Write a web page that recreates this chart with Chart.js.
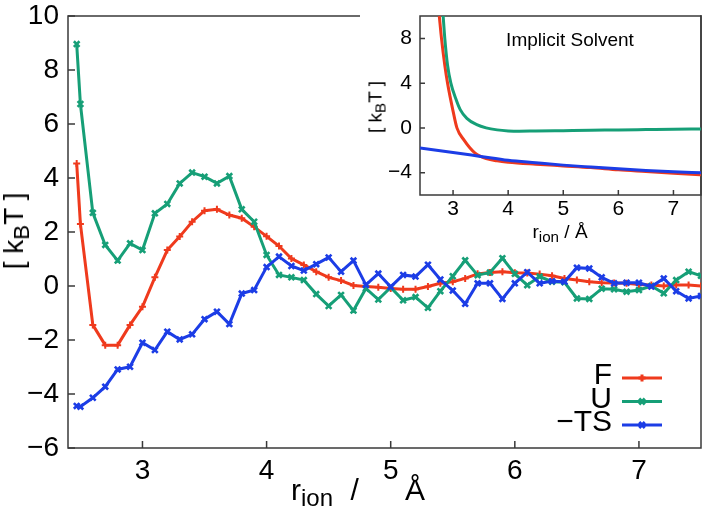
<!DOCTYPE html>
<html>
<head>
<meta charset="utf-8">
<script src="https://cdn.jsdelivr.net/npm/chart.js@4"></script>
<style>
  body { margin: 0; background: #fff; }
  #wrap { position: relative; width: 702px; height: 512px; font-family: "Liberation Sans", Arial, sans-serif; }
  #main { position: absolute; left: 0; top: 0; }
  #inset { position: absolute; left: 360px; top: 0; }
  .lbl { position: absolute; white-space: nowrap; color: #000; line-height: 1; transform-origin: center center; }
  .lbl sub { font-size: 0.8em; position: relative; top: 0.25em; vertical-align: baseline; }
</style>
</head>
<body>
<div id="wrap">
  <canvas id="main" width="702" height="512"></canvas>
  <canvas id="inset" width="342" height="244"></canvas>
  <div class="lbl" style="left:14px; top:231px; font-size:28px; transform:translate(-50%,-50%) rotate(-90deg);">[ k<sub>B</sub>T ]</div>
  <div class="lbl" style="left:291px; top:475px; font-size:30px;">r<sub>ion</sub> <span style="margin-left:9px">/</span> <span style="margin-left:38px">Å</span></div>
  <div class="lbl" style="left:375px; top:107px; font-size:19px; transform:translate(-50%,-50%) rotate(-90deg);">[ k<sub>B</sub>T ]</div>
  <div class="lbl" style="left:560px; top:231px; font-size:19px; transform:translate(-50%,-50%);">r<sub>ion</sub> / Å</div>
</div>
<script>
// main panel: r in Angstrom, energies in kBT
const xVals = [2.47, 2.5, 2.6, 2.7, 2.8, 2.9, 3.0, 3.1, 3.2, 3.3,
  3.4, 3.5, 3.6, 3.7, 3.8, 3.9, 4.0, 4.1, 4.2, 4.3,
  4.4, 4.5, 4.6, 4.7, 4.8, 4.9, 5.0, 5.1, 5.2, 5.3,
  5.4, 5.5, 5.6, 5.7, 5.8, 5.9, 6.0, 6.1, 6.2, 6.3,
  6.4, 6.5, 6.6, 6.7, 6.8, 6.9, 7.0, 7.1, 7.2, 7.3,
  7.4, 7.5];
const valsF = [4.54, 2.30, -1.44, -2.19, -2.19, -1.44, -0.77, 0.32, 1.33, 1.83,
  2.38, 2.79, 2.84, 2.63, 2.51, 2.19, 1.84, 1.48, 1.02, 0.78,
  0.53, 0.32, 0.20, 0.02, -0.02, -0.05, -0.09, -0.12, -0.12, -0.02,
  0.10, 0.16, 0.28, 0.45, 0.50, 0.53, 0.49, 0.48, 0.44, 0.38,
  0.28, 0.22, 0.16, 0.12, 0.11, 0.10, 0.06, 0.04, 0.00, 0.04,
  0.04, 0.00];
const valsU = [8.96, 6.74, 2.71, 1.52, 0.94, 1.58, 1.33, 2.69, 3.04, 3.80,
  4.20, 4.05, 3.80, 4.07, 2.84, 2.38, 1.15, 0.41, 0.32, 0.22,
  -0.30, -0.74, -0.33, -0.91, -0.09, -0.50, -0.05, -0.53, -0.41, -0.81,
  -0.19, 0.36, 0.95, 0.40, 0.50, 1.03, 0.45, 0.03, 0.35, 0.16,
  0.14, -0.46, -0.48, -0.10, -0.12, -0.21, -0.15, 0.00, -0.27, 0.22,
  0.53, 0.38];
const valsTS = [-4.44, -4.47, -4.14, -3.73, -3.09, -2.99, -2.10, -2.37, -1.69, -1.98,
  -1.79, -1.23, -0.95, -1.41, -0.28, -0.15, 0.70, 1.09, 0.74, 0.57,
  0.81, 1.06, 0.53, 0.94, 0.04, 0.46, -0.03, 0.41, 0.35, 0.79,
  0.24, -0.17, -0.66, 0.10, 0.10, -0.48, 0.10, 0.51, 0.10, 0.18,
  0.16, 0.68, 0.65, 0.32, 0.10, 0.12, 0.12, -0.02, 0.28, -0.19,
  -0.46, -0.37];
const seriesNames = ['F', 'U', '\u2212TS'];
const xTicks = [3, 4, 5, 6, 7];
const yTicks = [-6, -4, -2, 0, 2, 4, 6, 8, 10];

// inset: implicit solvent curves
const insetFx = [2.75, 2.79, 2.85, 2.9, 3.0, 3.07, 3.2, 3.3, 3.4, 3.5, 3.6, 3.8, 4.0, 4.5, 5.0, 5.5, 6.0, 6.5, 7.0, 7.5];
const insetF = [10, 8, 5.6, 4.0, 1.5, 0, -1.1, -1.75, -2.25, -2.55, -2.75, -2.95, -3.07, -3.25, -3.4, -3.55, -3.75, -3.9, -4.05, -4.2];
const insetUx = [2.82, 2.85, 2.9, 2.96, 3.05, 3.13, 3.25, 3.43, 3.6, 3.8, 4.0, 4.2, 4.5, 5.0, 5.5, 6.0, 6.5, 7.0, 7.5];
const insetU = [10, 8, 5.6, 4.0, 2.6, 1.63, 0.85, 0.29, 0.0, -0.18, -0.27, -0.3, -0.28, -0.25, -0.22, -0.18, -0.15, -0.12, -0.1];
const insetTSx = [2.4, 3.0, 3.5, 4.0, 4.5, 5.0, 5.5, 6.0, 6.5, 7.0, 7.5];
const insetTS = [-1.8, -2.2, -2.55, -2.9, -3.12, -3.33, -3.5, -3.66, -3.8, -3.92, -4.02];
const insetXTicks = [3, 4, 5, 6, 7];
const insetYTicks = [-4, 0, 4, 8];
const insetTitle = 'Implicit Solvent';

const RED = '#ef3a1d', GREEN = '#169f77', BLUE = '#1c3de6';
const FONT = '"Liberation Sans", Arial, sans-serif';

function pts(xs, ys) {
  return xs.map((x, i) => ({ x: x, y: ys[i] }));
}
function minus(v) {
  return String(v).replace('-', '\u2212');
}
// keep the plot box where it is: no extra room for edge labels
function noPad(s) {
  s.paddingTop = 0; s.paddingBottom = 0; s.paddingLeft = 0; s.paddingRight = 0;
}

// box round the plot area plus inward tick marks
const frame = {
  id: 'frame',
  beforeDatasetsDraw(chart, args, opts) {
    const { ctx, chartArea: a, scales } = chart;
    ctx.save();
    ctx.strokeStyle = '#3a3a3a';
    ctx.lineWidth = opts.lineWidth;
    ctx.beginPath();
    scales.x.ticks.forEach(t => {
      const px = scales.x.getPixelForValue(t.value);
      ctx.moveTo(px, a.bottom);
      ctx.lineTo(px, a.bottom - opts.tick);
    });
    scales.y.ticks.forEach(t => {
      const py = scales.y.getPixelForValue(t.value);
      ctx.moveTo(a.left, py);
      ctx.lineTo(a.left + opts.tick, py);
    });
    ctx.stroke();
    ctx.strokeRect(a.left, a.top, a.right - a.left, a.bottom - a.top);
    ctx.restore();
  }
};

// text on the left, sample line on the right
const sideLegend = {
  id: 'sideLegend',
  afterDraw(chart, args, opts) {
    const ctx = chart.ctx;
    ctx.save();
    ctx.font = '30px ' + FONT;
    ctx.textAlign = 'right';
    ctx.textBaseline = 'middle';
    chart.data.datasets.forEach((ds, i) => {
      const y = opts.y0 + i * opts.step;
      ctx.fillStyle = '#000';
      ctx.fillText(ds.label, opts.textRight, y - 2);
      ctx.strokeStyle = ds.borderColor;
      ctx.lineWidth = 3;
      ctx.beginPath();
      ctx.moveTo(opts.lineLeft, y);
      ctx.lineTo(opts.lineLeft + 40, y);
      ctx.stroke();
      ctx.fillStyle = ds.borderColor;
      Chart.helpers.drawPoint(ctx, {
        pointStyle: ds.pointStyle, radius: ds.pointRadius, borderWidth: ds.pointBorderWidth, rotation: 0
      }, opts.lineLeft + 20, y);
    });
    ctx.restore();
  }
};

const insetBack = {
  id: 'insetBack',
  beforeDraw(chart) {
    const ctx = chart.ctx;
    ctx.save();
    ctx.fillStyle = '#fff';
    ctx.fillRect(0, 0, chart.chartArea.right - 1, chart.height);
    ctx.restore();
  },
  afterDraw(chart) {
    const ctx = chart.ctx;
    ctx.save();
    ctx.font = '19px ' + FONT;
    ctx.fillStyle = '#000';
    ctx.textAlign = 'center';
    ctx.textBaseline = 'middle';
    ctx.fillText(insetTitle, 210, 41);
    ctx.restore();
  }
};

function series(label, xs, ys, color, style, r, order) {
  return {
    label: label,
    data: pts(xs, ys),
    borderColor: color,
    backgroundColor: color,
    borderWidth: 3,
    pointStyle: style,
    pointRadius: r,
    pointBorderWidth: style === 'cross' ? 2 : 2.6,
    pointBorderColor: color,
    order: order,
    tension: 0
  };
}

new Chart(document.getElementById('main'), {
  type: 'line',
  data: {
    datasets: [
      series(seriesNames[0], xVals, valsF, RED, 'cross', 3.5, 2),
      series(seriesNames[1], xVals, valsU, GREEN, 'crossRot', 4, 1),
      series(seriesNames[2], xVals, valsTS, BLUE, 'crossRot', 4, 0)
    ]
  },
  options: {
    responsive: false,
    animation: false,
    devicePixelRatio: 1,
    layout: { autoPadding: false, padding: { top: 16, right: 1, left: 0, bottom: 0 } },
    scales: {
      x: {
        type: 'linear', min: 2.4, max: 7.5,
        afterBuildTicks: s => { s.ticks = xTicks.map(v => ({ value: v })); },
        afterFit: s => { s.height = 64; noPad(s); },
        grid: { display: false, drawTicks: false },
        border: { display: false },
        ticks: { color: '#000', padding: 6, font: { family: FONT, size: 28 }, callback: v => minus(v) }
      },
      y: {
        type: 'linear', min: -6, max: 10,
        afterBuildTicks: s => { s.ticks = yTicks.map(v => ({ value: v })); },
        afterFit: s => { s.width = 68; noPad(s); },
        grid: { display: false, drawTicks: false },
        border: { display: false },
        ticks: { color: '#000', padding: 9, font: { family: FONT, size: 28 }, callback: v => minus(v) }
      }
    },
    plugins: {
      legend: { display: false },
      tooltip: { enabled: false },
      frame: { tick: 7, lineWidth: 1.5 },
      sideLegend: { y0: 378, step: 23.5, textRight: 612, lineLeft: 622 }
    }
  },
  plugins: [frame, sideLegend]
});

function smooth(label, xs, ys, color, order) {
  return {
    label: label, data: pts(xs, ys), borderColor: color, borderWidth: 3,
    pointRadius: 0, cubicInterpolationMode: 'monotone', order: order
  };
}

new Chart(document.getElementById('inset'), {
  type: 'line',
  data: {
    datasets: [
      smooth(seriesNames[0], insetFx, insetF, RED, 2),
      smooth(seriesNames[1], insetUx, insetU, GREEN, 1),
      smooth(seriesNames[2], insetTSx, insetTS, BLUE, 0)
    ]
  },
  options: {
    responsive: false,
    animation: false,
    devicePixelRatio: 1,
    layout: { autoPadding: false, padding: { top: 16, right: 1, left: 0, bottom: 0 } },
    scales: {
      x: {
        type: 'linear', min: 2.4, max: 7.5,
        afterBuildTicks: s => { s.ticks = insetXTicks.map(v => ({ value: v })); },
        afterFit: s => { s.height = 49; noPad(s); },
        grid: { display: false, drawTicks: false },
        border: { display: false },
        ticks: { color: '#000', padding: 2, font: { family: FONT, size: 21 }, callback: v => minus(v) }
      },
      y: {
        type: 'linear', min: -6, max: 10,
        afterBuildTicks: s => { s.ticks = insetYTicks.map(v => ({ value: v })); },
        afterFit: s => { s.width = 60; noPad(s); },
        grid: { display: false, drawTicks: false },
        border: { display: false },
        ticks: { color: '#000', padding: 8, font: { family: FONT, size: 21 }, callback: v => minus(v) }
      }
    },
    plugins: {
      legend: { display: false },
      tooltip: { enabled: false },
      frame: { tick: 5, lineWidth: 1.5 }
    }
  },
  plugins: [insetBack, frame]
});
</script>
</body>
</html>
